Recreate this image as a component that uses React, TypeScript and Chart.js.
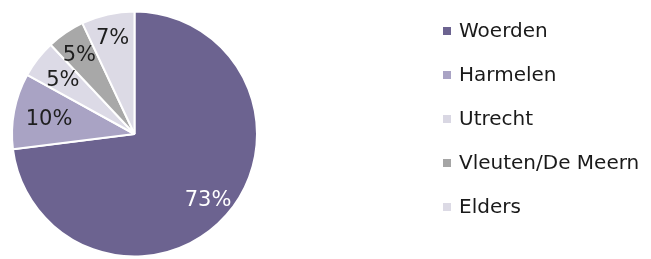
import React, { useEffect, useRef } from "react";
import { Chart, registerables } from "chart.js";

Chart.register(...registerables);

const categories = ["Woerden", "Harmelen", "Utrecht", "Vleuten/De Meern", "Elders"];
const shares = [73, 10, 5, 5, 7];
const sliceColors = ["#6c6390", "#a9a3c4", "#dcdae6", "#a8a8a8", "#dcdae5"];
const markerColors = ["#6c6390", "#a9a3c4", "#d9d7e3", "#a5a5a5", "#dcdae5"];
const labelColors = ["#ffffff", "#1e1e1e", "#1e1e1e", "#1e1e1e", "#1e1e1e"];
const labelRadius = [0.8, 0.71, 0.74, 0.8, 0.82];

const FONT = "'DejaVu Sans', Verdana, sans-serif";

const pctLabels = {
  id: "pctLabels",
  afterDatasetsDraw(chart: any) {
    const ctx = chart.ctx;
    const meta = chart.getDatasetMeta(0);
    const size = 21;
    ctx.save();
    ctx.font = `${size}px ${FONT}`;
    ctx.textAlign = "center";
    ctx.textBaseline = "alphabetic";
    meta.data.forEach((arc: any, i: number) => {
      const { x, y, startAngle, endAngle, outerRadius } = arc.getProps(
        ["x", "y", "startAngle", "endAngle", "outerRadius"],
        true
      );
      const mid = (startAngle + endAngle) / 2;
      const d = outerRadius * labelRadius[i];
      ctx.fillStyle = labelColors[i];
      ctx.fillText(
        `${shares[i]}%`,
        x + Math.cos(mid) * d,
        y + Math.sin(mid) * d + size * 0.365
      );
    });
    ctx.restore();
  },
};

const sideLegend = {
  id: "sideLegend",
  afterDraw(chart: any) {
    const ctx = chart.ctx;
    const left = chart.chartArea.right + 185;
    const top = 31;
    const step = 44;
    ctx.save();
    ctx.font = `20px ${FONT}`;
    ctx.textAlign = "left";
    ctx.textBaseline = "middle";
    categories.forEach((c, i) => {
      const cy = top + i * step;
      ctx.fillStyle = markerColors[i];
      ctx.fillRect(left, cy - 4, 8, 8);
      ctx.fillStyle = "#1a1a1a";
      ctx.fillText(c, left + 16, cy + 1);
    });
    ctx.restore();
  },
};

export default function App() {
  const ref = useRef<HTMLCanvasElement>(null);
  useEffect(() => {
    document.body.style.margin = "0";
    const chart = new Chart(ref.current!, {
      type: "pie",
      data: {
        labels: categories,
        datasets: [
          {
            data: shares,
            backgroundColor: sliceColors,
            borderColor: "#ffffff",
            borderWidth: 2,
          },
        ],
      },
      options: {
        responsive: false,
        animation: false,
        layout: { padding: { left: 11, top: 10, right: 393, bottom: 1 } },
        plugins: {
          legend: { display: false },
          tooltip: { enabled: false },
        },
      },
      plugins: [pctLabels, sideLegend],
    });
    return () => chart.destroy();
  }, []);
  return (
    <div style={{ width: 651, height: 259, background: "#ffffff" }}>
      <canvas ref={ref} width={651} height={259} style={{ display: "block" }} />
    </div>
  );
}
